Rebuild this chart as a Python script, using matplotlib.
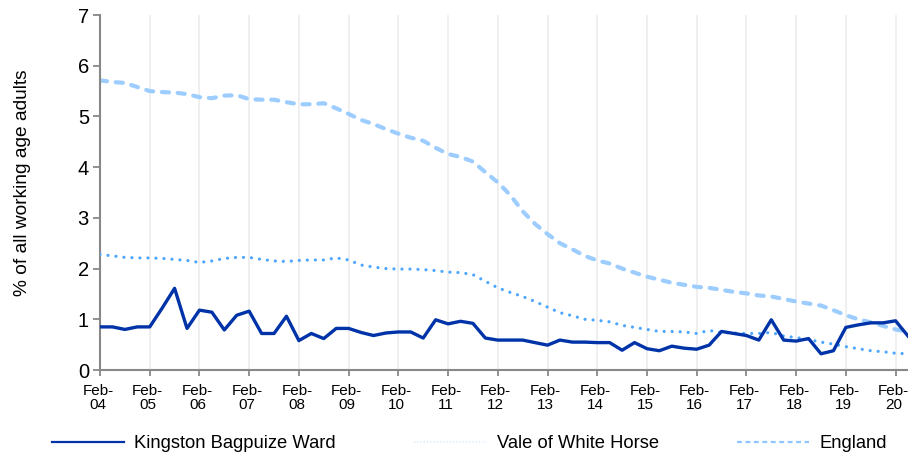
import matplotlib
matplotlib.use("Agg")
import matplotlib.pyplot as plt
import matplotlib.transforms as mtransforms
from matplotlib.lines import Line2D
import numpy as np

plt.rcParams['font.family'] = ['Liberation Sans', 'DejaVu Sans']

years = ["04", "05", "06", "07", "08", "09", "10", "11", "12", "13",
         "14", "15", "16", "17", "18", "19", "20"]
tick_labels = ["Feb-\n" + y for y in years]

kingston = [0.85, 0.85, 0.80, 0.85, 0.85, 1.22, 1.61, 0.82, 1.18, 1.14,
            0.79, 1.08, 1.16, 0.72, 0.72, 1.06, 0.58, 0.72, 0.62, 0.82,
            0.82, 0.74, 0.68, 0.73, 0.75, 0.75, 0.63, 0.99, 0.91, 0.96,
            0.92, 0.63, 0.59, 0.59, 0.59, 0.54, 0.49, 0.59, 0.55, 0.55,
            0.54, 0.54, 0.39, 0.54, 0.42, 0.38, 0.47, 0.43, 0.41, 0.49,
            0.76, 0.72, 0.68, 0.59, 0.99, 0.59, 0.57, 0.62, 0.32, 0.38,
            0.84, 0.89, 0.93, 0.93, 0.97, 0.67]

vale = [2.28, 2.25, 2.22, 2.21, 2.21, 2.20, 2.18, 2.16, 2.12, 2.15,
        2.20, 2.22, 2.22, 2.18, 2.15, 2.14, 2.16, 2.17, 2.17, 2.21,
        2.17, 2.07, 2.03, 2.00, 1.99, 1.99, 1.98, 1.96, 1.93, 1.92,
        1.88, 1.75, 1.62, 1.53, 1.45, 1.35, 1.24, 1.13, 1.07, 1.00,
        0.98, 0.95, 0.88, 0.84, 0.80, 0.76, 0.76, 0.75, 0.72, 0.78,
        0.74, 0.73, 0.72, 0.72, 0.74, 0.67, 0.64, 0.60, 0.55, 0.51,
        0.46, 0.42, 0.38, 0.36, 0.33, 0.32]

england = [5.71, 5.68, 5.66, 5.58, 5.50, 5.48, 5.47, 5.44, 5.38, 5.36,
           5.41, 5.42, 5.34, 5.33, 5.33, 5.28, 5.24, 5.24, 5.26, 5.16,
           5.05, 4.93, 4.85, 4.75, 4.66, 4.58, 4.52, 4.38, 4.26, 4.20,
           4.11, 3.90, 3.70, 3.45, 3.13, 2.88, 2.68, 2.50, 2.38, 2.25,
           2.16, 2.10, 2.00, 1.92, 1.84, 1.78, 1.72, 1.68, 1.64, 1.62,
           1.58, 1.54, 1.51, 1.47, 1.45, 1.40, 1.35, 1.31, 1.27, 1.18,
           1.08, 1.00, 0.94, 0.87, 0.80, 0.75]

series_names = ["Kingston Bagpuize Ward", "Vale of White Horse", "England"]

W, H = 908, 457
fig = plt.figure(figsize=(W / 100, H / 100), dpi=100)
ax = fig.add_axes([100 / W, (H - 370) / H, 808 / W, 355 / H])

x = np.arange(len(kingston))
c_king = "#0033a8"
c_vale = "#4da6ff"
c_eng = "#9dcdff"

ax.plot(x, kingston, color=c_king, lw=2.4, solid_joinstyle='round', zorder=4)
ax.plot(x, vale, color=c_vale, lw=2.3, linestyle=(0, (0.01, 2.5)),
        dash_capstyle='round', zorder=3)
ax.plot(x, england, color=c_eng, lw=3.0, linestyle=(0, (1.7, 2.1)),
        dash_capstyle='round', zorder=2)

ax.set_xlim(0, len(kingston) - 1)
ax.set_ylim(0, 7)
ax.set_yticks(range(0, 8))
ax.set_xticks(np.arange(0, 4 * len(years), 4))
ax.set_xticklabels(tick_labels, fontsize=11, linespacing=1.05)
ax.tick_params(axis='y', labelsize=14.5, length=5, width=1.3, color="#888888",
               pad=3, direction='out')
ax.tick_params(axis='x', length=4, width=1.3, color="#888888", pad=6,
               direction='out')

offset = mtransforms.ScaledTranslation(-2 / 100, 0, fig.dpi_scale_trans)
for lbl in ax.get_xticklabels():
    lbl.set_transform(lbl.get_transform() + offset)

for s in ['top', 'right']:
    ax.spines[s].set_visible(False)
for s in ['left', 'bottom']:
    ax.spines[s].set_color("#888888")
    ax.spines[s].set_linewidth(1.5)

ax.grid(axis='x', color="#ececec", lw=1.2)
ax.set_axisbelow(True)

ax.set_ylabel("% of all working age adults", fontsize=13.8)
ax.yaxis.set_label_coords((31 - 100) / 808, (370 - 182.5) / 355)

handles = [
    Line2D([], [], color=c_king, lw=1.6),
    Line2D([], [], color="#d6e8fb", lw=1.3, linestyle=(0, (0.6, 1.2))),
    Line2D([], [], color="#8fc6ff", lw=1.6, linestyle=(0, (2.2, 1.6))),
]
leg = fig.legend(handles=handles, labels=series_names, loc='center left',
                 bbox_to_anchor=(52 / W, (H - 444) / H), ncol=3, frameon=False,
                 fontsize=13.2, handlelength=3.95, handletextpad=0.55,
                 columnspacing=4.25, borderpad=0, borderaxespad=0)

fig.savefig("out.png", dpi=100)
